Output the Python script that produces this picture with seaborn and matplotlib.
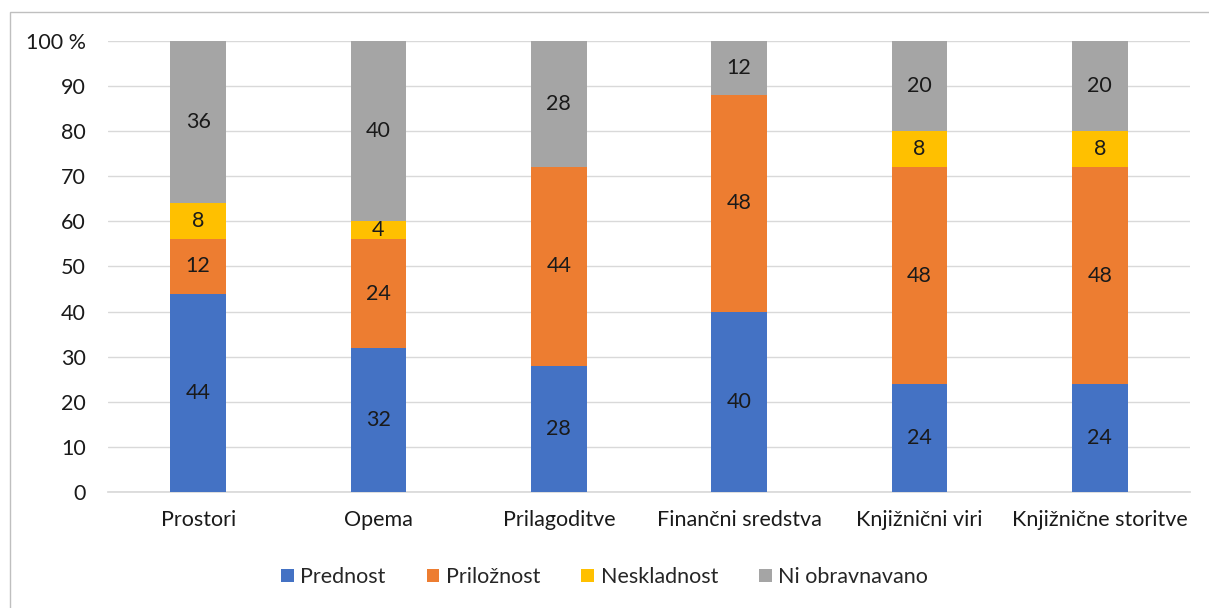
import numpy as np
import pandas as pd
import matplotlib
matplotlib.use("Agg")
import matplotlib.pyplot as plt
import seaborn as sns
from matplotlib.patches import Rectangle, Patch

# ── Data ─────────────────────────────────────────────────────────────────────
categories   = ["Prostori", "Opema", "Prilagoditve", "Finančni sredstva",
                "Knjižnični viri", "Knjižnične storitve"]
prednost     = [44, 32, 28, 40, 24, 24]
priloznost   = [12, 24, 44, 48, 48, 48]
neskladnost  = [8, 4, 0, 0, 8, 8]
ni_obravnav  = [36, 40, 28, 12, 20, 20]

series_names = ["Prednost", "Priložnost", "Neskladnost", "Ni obravnavano"]
colors       = ["#4472c4", "#ed7d31", "#ffc000", "#a5a5a5"]
yticks       = list(range(0, 101, 10))
ytick_labels = [str(t) for t in yticks[:-1]] + ["100 %"]

sns.set_theme(style="white")
plt.rcParams["font.family"] = ["Lato", "DejaVu Sans"]
FS = 15.5

df = pd.DataFrame({"cat": categories, "Prednost": prednost, "Priložnost": priloznost,
                   "Neskladnost": neskladnost, "Ni obravnavano": ni_obravnav})
cum = df[series_names].cumsum(axis=1)
bottoms = cum.shift(1, axis=1).fillna(0)

fig = plt.figure(figsize=(12.09, 6.08), dpi=100)
ax = fig.add_axes([108 / 1209, 0.1908, 1082 / 1209, 0.7418])

# draw cumulative totals from the top down so lower segments overlay upper ones
for name, col in reversed(list(zip(series_names, colors))):
    sns.barplot(x=df["cat"], y=cum[name], color=col, width=0.31,
                saturation=1, ax=ax, zorder=3, edgecolor="none")

# segment labels
for i in range(len(categories)):
    for name in series_names:
        v = df.loc[i, name]
        if v > 0:
            ax.text(i, bottoms.loc[i, name] + v / 2, f"{v}", ha="center",
                    va="center", fontsize=FS, color="#1a1a1a", zorder=4)

ax.set_ylim(0, 100)
ax.set_xlim(-0.5, len(categories) - 0.5)
ax.set_yticks(yticks)
ax.set_yticklabels(ytick_labels)
ax.yaxis.grid(True, color="#d9d9d9", linewidth=1, zorder=0)
ax.set_axisbelow(True)
ax.set_xlabel("")
ax.set_ylabel("")
ax.tick_params(axis="both", length=0, labelsize=FS, colors="#1a1a1a")
ax.tick_params(axis="y", pad=16)
ax.tick_params(axis="x", pad=13)
for s in ["top", "right", "left"]:
    ax.spines[s].set_visible(False)
ax.spines["bottom"].set_color("#d9d9d9")

handles = [Patch(facecolor=c, edgecolor="none") for c in colors]
fig.legend(handles, series_names, loc="center", bbox_to_anchor=(0.5, 0.051),
           ncol=4, frameon=False, fontsize=FS, handlelength=0.6, handleheight=0.6,
           handletextpad=0.3, columnspacing=1.9)

# outer chart border
fig.patches.append(Rectangle((10 / 1209, -0.01), 1.1, 1 - 12 / 608 + 0.01,
                             transform=fig.transFigure, fill=False,
                             edgecolor="#bfbfbf", linewidth=1))

fig.savefig("out.png", dpi=100)
